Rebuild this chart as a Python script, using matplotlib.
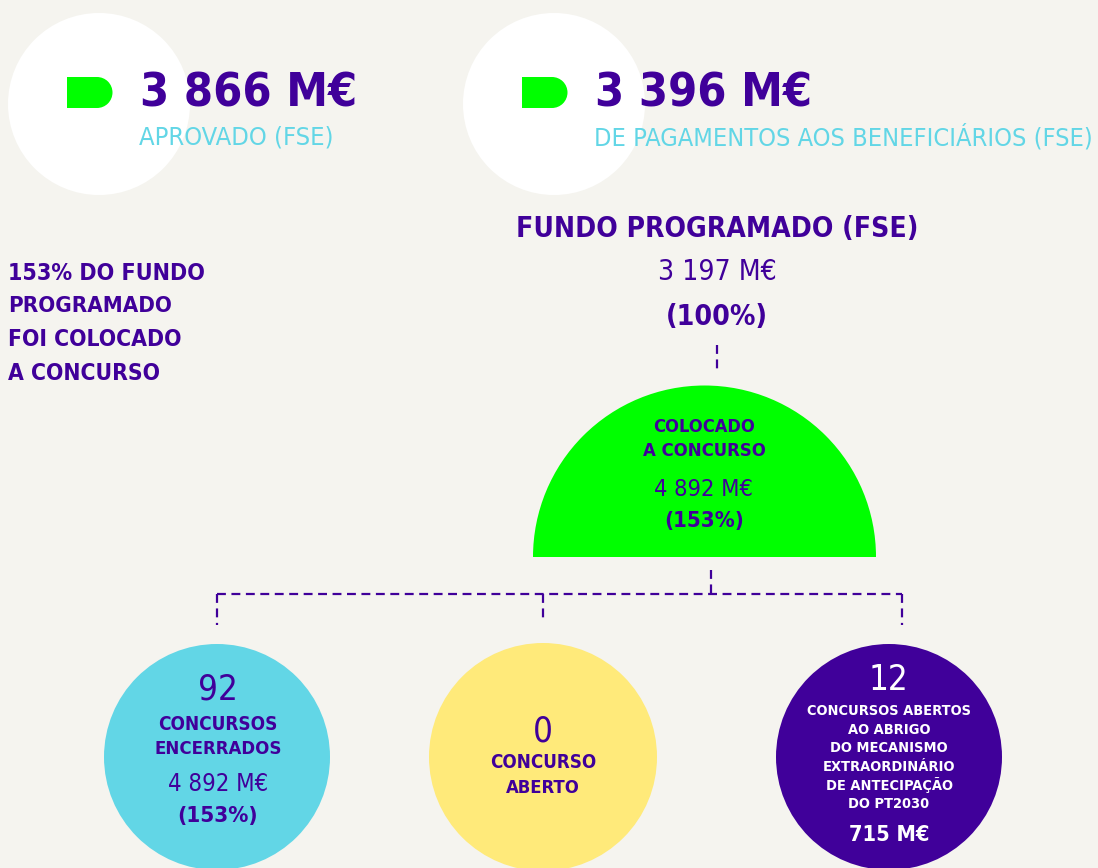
import matplotlib
matplotlib.use("Agg")
import matplotlib.pyplot as plt
from matplotlib.patches import Circle, Wedge, Rectangle

# values read from the infographic (M€ and counts)
approved = 3866
paid = 3396
programmed = 3197
placed = 4892
placed_pct = 153
n_closed = 92
closed_value = 4892
closed_pct = 153
n_open = 0
n_pt2030 = 12
pt2030_value = 715

PURPLE = "#40009a"
CYAN = "#62d6e6"
GREEN = "#00ff00"
YELLOW = "#ffea7a"
BG = "#f5f4ef"

plt.rcParams["font.family"] = ["DejaVu Sans"]
plt.rcParams["font.stretch"] = "condensed"


def meur(v):
    return f"{v:,}".replace(",", " ") + " M€"


fig = plt.figure(figsize=(10.98, 8.68), dpi=100, facecolor=BG)
ax = fig.add_axes([0, 0, 1, 1])
ax.set_xlim(0, 1098)
ax.set_ylim(868, 0)
ax.set_aspect("equal")
ax.axis("off")
ax.set_facecolor(BG)

fitted = []   # (text, target width in px, start size)


def put(x, y, s, size, color=PURPLE, bold=False, ha="center", width=None):
    t = ax.text(x, y, s, fontsize=size, color=color, ha=ha, va="center",
                fontweight="bold" if bold else "normal", fontstretch="condensed")
    if width:
        fitted.append((t, width, size))
    return t


def d_mark(x0, yc):
    # little green "D" in front of the headline numbers
    ax.add_patch(Rectangle((x0, yc - 15.5), 30, 31, color=GREEN, lw=0))
    ax.add_patch(Wedge((x0 + 30, yc), 15.5, -90, 90, color=GREEN, lw=0))


# header blocks
for cx, x0, xt, val, label, lw_ in [(99, 67, 140, approved, "APROVADO (FSE)", 195),
                                    (554, 522, 595, paid, "DE PAGAMENTOS AOS BENEFICIÁRIOS (FSE)", 500)]:
    ax.add_patch(Circle((cx, 104), 91, color="white", lw=0))
    d_mark(x0, 92.5)
    put(xt, 94, meur(val), 39, bold=True, ha="left", width=217)
    put(xt - 1, 137, label, 21, color=CYAN, ha="left", width=lw_)

# programmed fund
put(717, 229, "FUNDO PROGRAMADO (FSE)", 24, bold=True, width=403)
put(717, 272, meur(programmed), 20, width=119)
put(717, 317, "(100%)", 21, bold=True, width=102)

# left note
for i, (line, w) in enumerate([(f"{placed_pct}% DO FUNDO", 197), ("PROGRAMADO", 163),
                               ("FOI COLOCADO", 173), ("A CONCURSO", 152)]):
    put(8, 273 + i * 33.5, line, 18, bold=True, ha="left", width=w)

# semicircle "colocado a concurso"
ax.add_patch(Wedge((704.5, 557), 171.5, 180, 360, color=GREEN, lw=0))
put(704, 427, "COLOCADO", 15, bold=True, width=102)
put(704, 451, "A CONCURSO", 15, bold=True, width=123)
put(704, 489, meur(placed), 17, width=99)
put(704, 521, f"({placed_pct}%)", 16, bold=True, width=80)

# dashed connectors
dash = dict(color=PURPLE, lw=1.6, ls=(0, (4, 2.5)))
ax.plot([717, 717], [345, 371], **dash)
ax.plot([711, 711], [570, 594], **dash)
ax.plot([217, 902], [594, 594], **dash)
ax.plot([217, 217], [594, 625], **dash)
ax.plot([543, 543], [594, 622], **dash)
ax.plot([902, 902], [594, 625], **dash)

# bottom circles
ax.add_patch(Circle((217, 757), 113, color=CYAN, lw=0))
put(218, 690, str(n_closed), 25)
put(218, 724, "CONCURSOS", 14.5, bold=True, width=119)
put(218, 749, "ENCERRADOS", 14.5, bold=True, width=127)
put(218, 784, meur(closed_value), 17, width=100)
put(218, 816, f"({closed_pct}%)", 16, bold=True, width=81)

ax.add_patch(Circle((543, 757), 114, color=YELLOW, lw=0))
put(543, 731, str(n_open), 25)
put(543, 763, "CONCURSO", 14.5, bold=True, width=106)
put(543, 788, "ABERTO", 14.5, bold=True, width=74)

ax.add_patch(Circle((889, 757), 113, color=PURPLE, lw=0))
put(888, 680, str(n_pt2030), 25, color="white")
small = []
for i, line in enumerate(["CONCURSOS ABERTOS", "AO ABRIGO", "DO MECANISMO",
                          "EXTRAORDINÁRIO", "DE ANTECIPAÇÃO", "DO PT2030"]):
    small.append(put(889, 711 + i * 18.6, line, 11.5, color="white", bold=True,
                     width=164 if i == 0 else None))
put(889, 835, meur(pt2030_value), 18, color="white", bold=True, width=81)

# scale texts so their rendered width matches the width measured on the original
renderer = fig.canvas.get_renderer()
for t, w, size in fitted:
    cur = t.get_window_extent(renderer).width
    t.set_fontsize(min(size * w / cur, size * 1.3))
for t in small[1:]:
    t.set_fontsize(small[0].get_fontsize())

fig.savefig("out.png", dpi=100, facecolor=BG)
